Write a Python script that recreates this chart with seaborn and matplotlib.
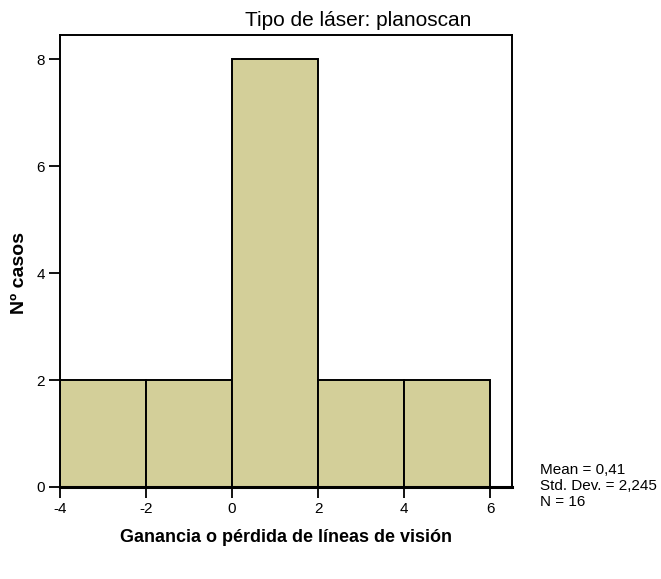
import matplotlib
matplotlib.use("Agg")
import matplotlib.pyplot as plt
import seaborn as sns

# Histogram data: bin edges and counts per bin
bin_edges = [-4, -2, 0, 2, 4, 6]
bin_counts = [2, 2, 8, 2, 2]
x_ticks = [-4, -2, 0, 2, 4, 6]
y_ticks = [0, 2, 4, 6, 8]
stats_lines = ["Mean = 0,41", "Std. Dev. = 2,245", "N = 16"]

title = "Tipo de láser: planoscan"
x_label = "Ganancia o pérdida de líneas de visión"
y_label = "Nº casos"

sns.set_style("white")
plt.rcParams["font.family"] = ["Liberation Sans", "DejaVu Sans"]
plt.rcParams["axes.unicode_minus"] = False
plt.rcParams["text.color"] = "black"

fig = plt.figure(figsize=(6.61, 5.79), dpi=100)
ax = fig.add_axes([60 / 661, 92 / 579, 452 / 661, 452 / 579])

centers = [(a + b) / 2 for a, b in zip(bin_edges[:-1], bin_edges[1:])]
sns.histplot(x=centers, weights=bin_counts, bins=bin_edges, ax=ax,
             color="#D3CF99", alpha=1, edgecolor="black", linewidth=1.4)

ax.set_xlim(-4, 6.51)
ax.set_ylim(0, 8.45)
ax.set_xticks(x_ticks)
ax.set_yticks(y_ticks)
ax.tick_params(axis="both", which="major", bottom=True, left=True,
               direction="out", length=8, width=1.3,
               labelsize=11, colors="black", labelcolor="black", pad=3)
for side in ["left", "right", "top"]:
    ax.spines[side].set_linewidth(1.4)
    ax.spines[side].set_color("black")
ax.spines["bottom"].set_linewidth(2.2)
ax.spines["bottom"].set_color("black")

ax.set_xlabel("")
ax.set_ylabel("")
fig.text(286 / 661, 1 - 537 / 579, x_label, ha="center", va="center",
         fontsize=13, fontweight="bold", color="black")
fig.text(20 / 661, 1 - 273 / 579, y_label, ha="center", va="center",
         rotation=90, fontsize=14, fontweight="bold", color="black")

fig.text(358 / 661, 1 - 21 / 579, title, ha="center", va="center",
         fontsize=15, color="black")

for i, line in enumerate(stats_lines):
    fig.text(540 / 661, 1 - (470 + 16 * i) / 579, line, ha="left",
             va="center", fontsize=11, color="black")

fig.savefig("out.png", dpi=100)
